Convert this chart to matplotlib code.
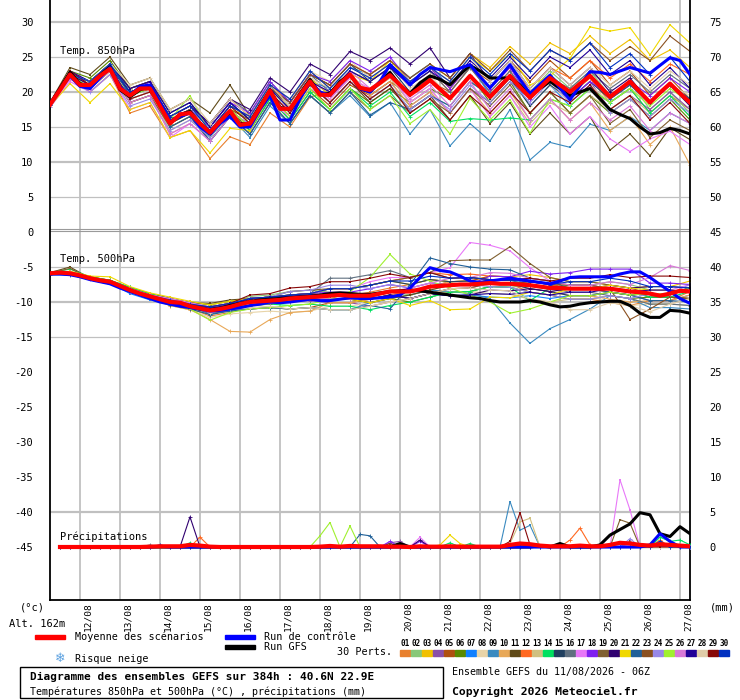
import matplotlib
matplotlib.use("Agg")
import matplotlib.pyplot as plt
from matplotlib.patches import Rectangle

plt.rcParams['font.family'] = ['DejaVu Sans Mono', 'DejaVu Sans']

# picture size in pixels, used to place text like the original
W = 740
H = 700

def fx(px):
    return px / W

def fy(py):
    return 1 - py / H

day_labels = ["12/08", "13/08", "14/08", "15/08", "16/08", "17/08", "18/08", "19/08",
              "20/08", "21/08", "22/08", "23/08", "24/08", "25/08", "26/08", "27/08"]

pert_labels = ["01", "02", "03", "04", "05", "06", "07", "08", "09", "10",
               "11", "12", "13", "14", "15", "16", "17", "18", "19", "20",
               "21", "22", "23", "24", "25", "26", "27", "28", "29", "30"]

pert_colors = ["#e8802e", "#88c878", "#f0c000", "#8a4fa8", "#b05010", "#5a8a00",
               "#1080ff", "#e8d4a8", "#3a8ac0", "#e8a858", "#604a18", "#ff6820",
               "#d0c080", "#00e060", "#204060", "#607080", "#e878f8", "#8020f0",
               "#806030", "#300070", "#f0d800", "#206098", "#8a5020", "#9888e8",
               "#a0f030", "#d878d8", "#200098", "#e0cca8", "#880808", "#0030c0"]

# 850 hPa temperature, every 6h (mean, control, GFS)
t850_mean = [18.2,20.3,22.5,21.0,21.0,22.3,23.3,20.5,19.5,20.5,20.5,18.0,15.5,16.8,17.0,15.5,14.2,15.8,17.3,15.3,
             15.5,17.8,20.2,17.6,17.6,19.6,21.5,19.6,19.6,21.2,22.5,20.6,20.3,21.3,22.4,21.0,19.6,20.6,21.7,20.4,
             19.1,20.7,22.3,20.8,19.3,20.8,22.3,20.7,19.2,20.6,22.0,21.0,20.0,21.2,22.3,20.8,19.3,20.4,21.5,20.0,
             18.5,19.9,21.2,19.8,18.5]
t850_ctrl = [18.2,20.3,22.3,20.8,20.5,22.0,23.5,20.8,19.5,20.8,21.0,18.5,15.8,16.5,17.0,15.0,14.0,15.5,16.5,15.0,
             15.0,17.5,19.5,16.0,16.0,19.0,21.5,20.0,19.5,21.0,22.5,20.5,20.0,21.5,23.9,22.5,21.0,22.5,23.5,23.2,
             22.9,23.4,23.9,22.2,20.6,22.2,23.9,21.8,19.8,21.1,22.4,20.6,18.9,20.9,22.9,22.8,22.5,23.0,23.5,23.1,
             22.7,23.8,24.9,24.5,22.5]
t850_gfs = [18.2,20.5,22.8,21.2,20.8,22.4,23.6,20.3,19.3,20.3,20.8,18.0,15.6,16.8,17.2,15.3,14.0,15.6,17.0,15.5,
            15.4,18.0,20.3,17.8,17.5,19.8,21.8,19.8,19.8,21.5,22.5,20.5,20.0,21.5,22.8,21.0,19.8,21.3,22.3,21.8,
            21.0,22.5,23.8,23.0,22.0,22.0,22.0,21.0,19.5,20.5,21.5,20.5,19.5,20.0,20.5,19.0,17.5,16.8,16.2,15.0,
            14.0,14.2,14.8,14.5,14.0]

# 850 hPa, the 30 perturbations, every 12h
t850_perts = [
    [18.2,22.3,20,22.5,17,18,13.5,14.5,10.5,13.6,12.5,17,15,19.3,20,23,21.5,23.5,21,23,20,23.5,20,23,19,22,19.5,22,18.5,20.5,17,19.5,17.5],
    [18.3,22.5,21.5,24,19.5,20.5,16,17.5,15,18.5,15.5,20,17,21,18.5,21.5,19,21,17.5,19.5,18,21.5,19.5,22.5,20,23,20.5,23,19.5,21.5,17.5,20,17],
    [17.8,22,20,22.5,18.5,19.5,15,16.5,14,17.5,16.5,21,19,23,20.5,23.5,22.5,24.5,22,24,22,25.5,23.5,26.5,24,27,25.5,28,25.5,27.5,24.5,26,23.5],
    [18.5,22.5,21,23.5,19,20,15.5,17,14.5,18,16.5,21,18,22,19.5,22.5,19.5,21.5,18,20,17,20.5,18.5,21.5,19,22,19,21.5,17.5,19.5,17.5,20,17.5],
    [18.2,22.5,21.5,24,20.5,21.5,16,17.5,14,17.5,15,19.5,16.5,20.5,18,21,19.5,21.5,19.5,21.5,20,23.5,21.5,24.5,21.5,24.5,22,24.5,21,23,19.5,22,19],
    [18.5,23,22,24.5,20.5,21.5,16,17.5,14,17.5,14.5,19,16,20,17.5,20.5,18.5,20.5,18.5,20.5,19,22.5,18.5,21.5,17,20,17,19.5,17,19,16.5,19,16],
    [18.2,22.5,21,23.5,20,21,16.5,18,15,18.5,16,20.5,17.5,21.5,20.5,23.5,22.5,24.5,22,24,20.5,24,19.5,22.5,18,21,18,20.5,18.5,20.5,18.5,21,19],
    [17.9,22.5,21,23.5,20.5,21.5,17.5,19,15.5,19,16.5,21,19,23,21.5,24.5,22,24,20.5,22.5,19,22.5,19,22,18,21,18.5,21,18.5,20.5,18.5,21,19.5],
    [18.2,22,20.5,23,18.5,19.5,15.5,17,13,16.5,13.5,18,15.5,19.5,17,19.5,16.5,18.5,14,17.5,12.3,15.5,13,17.5,10.3,12.8,12.1,15.4,14.5,16.5,14.5,17,15.5],
    [18.2,22.5,20.5,23,18.5,19.5,14,15.5,13,16.5,15,19.5,17.5,21.5,19,22,19.5,21.5,18,20,17,20.5,17,20,16,19,16,18.5,14.5,16.5,12.5,15,9.6],
    [18.5,23.5,22.5,25,21,22,17.5,19,17,21,16.5,21,17.5,21.5,18.5,21.5,18.5,20.5,17.5,19.5,16,19.5,15.5,18.5,14,17,14,16.5,11.7,14,10.9,14.9,13.2],
    [18.2,22.5,21.5,24,20,21,16.5,18,15.5,19,16.5,21,18.5,22.5,21,24,22.5,24.5,21.5,23.5,20.5,24,20.5,23.5,20.5,23.5,22,24.5,22,24,21.5,24,22.5],
    [18,22.5,21,23.5,19,20,14.5,16,13.5,17,15.5,20,18,22,19.5,22.5,20,22,18.5,20.5,17,20.5,16.5,19.5,15.5,18.5,17,19.5,17.5,19.5,17,19.5,16.5],
    [18.2,22.8,21.5,24,20,21,15.5,17,13.5,17,14.5,19,16,20,17.5,20.5,18,20,16.5,18.5,15.8,16.2,16,16.3,16,19,18,20.5,18.5,20.5,17,19.5,16.5],
    [18.2,22.5,21.5,24,20.5,21.5,17,18.5,15,18.5,16,20.5,18.5,22.5,21,24,21.5,23.5,20,22,19,22.5,19,22,18,21,19,21.5,19,21,18.5,21,19],
    [18.2,22.5,21,23.5,20,21,16.5,18,15.5,19,17,21.5,18.5,22.5,20,23,21.5,23.5,21,23,20,23.5,20,23,19,22,20.5,23,20.5,22.5,20,22.5,20.5],
    [17.8,21.5,20,22.5,17.5,18.5,13.5,15.5,13,16.5,14,18.5,16.5,20.5,19,22,20.5,22.5,18.5,20.5,17,20.5,16.5,19.5,15,18,14,16.5,13.3,11.5,13.3,14.4,12.5],
    [18.2,22.8,21.5,24,19.5,21.5,16,17.5,15,18.5,17,21.5,18.5,22.5,21.5,24.5,23,25,21.5,23.5,20.5,24,20.5,23.5,19,22,19,21.5,19.5,21.5,19.5,22,20],
    [18,22.3,20.5,23,18.5,19.5,15,16.5,13,16.5,14,18.5,15.5,19.5,17,20,17.5,19.5,17,19,17,20.5,18,21,17,20,17,19.5,15.5,17.5,13.5,16,14.5],
    [18.5,22.5,21,23.5,20,21,16.5,18,15.5,19,17.5,22,20,24,22.5,25.8,24.5,26.3,24,26.3,22,25.5,21.5,24.5,20.5,23.5,21,23.5,20,22,18.5,21,18],
    [18,21.2,18.5,21.2,17.5,18.5,13.5,14.5,11.3,14.8,14.5,19.5,17.5,22,19.5,22.5,21.5,24.5,21.5,23.5,21.5,25,23,25.5,21,22.3,24.8,29.3,28.7,29.2,25.3,29.6,27],
    [18.2,22.5,21.5,24,19.5,20.5,15,16.5,13,16.5,14,18.5,15.5,19.5,17,20,16.7,18.5,17.5,19.5,18,21.5,19.5,22.5,19.5,22.5,20,22.5,19,21,18.5,21,19],
    [18.2,22.5,21.5,24,20.5,21.5,16,17.5,14,17.5,16,20.5,18.5,22.5,21,24,22.5,24.5,22,24,22,25.5,23,26,23,26,24.5,27,24.5,26.5,24.5,28,25.8],
    [17.8,22,20,22.5,18,19,14.5,16,13.5,17,15.5,20,17,21,18.5,21.5,19,21,17.5,19.5,17.5,21,18.5,21.5,18.5,21.5,18.5,21,17,19,16.5,19,17],
    [18.2,22.5,20.5,23,19.5,20.5,16,19.5,14,17.5,15,19.5,16.5,20.5,17.5,20.5,17.5,19.5,15.5,17.5,14,19.1,16,18.9,14.1,19,18,20.5,18.5,20.5,18,20.5,18.5],
    [18.2,21.8,20.5,23,18.5,19.5,14,15.5,13,16.5,15,19.5,17.5,21.5,20,23,20.5,22.5,19,21,18,21.5,17.5,20.5,16,19,16,18.5,16,18,14.5,17,15.5],
    [18.5,23,21.5,24,20.5,21.5,17,18.5,15,18.5,16,20.5,17.5,21.5,20,23,21.5,23.5,21,23,21,24.5,22,25,22,25,23.5,26,22.5,24.5,21,23.5,20.5],
    [18.2,22.5,21.5,24,21,22,17.5,19,15.5,19,16.5,21,18,22,20.5,23.5,22,24,21.5,23.5,21.5,25,21.5,24.5,20.5,23.5,21,23.5,21,23,20.5,23,21],
    [18.5,23,21,23.5,19,20,15.5,17,14.5,18,15.5,20,17,21,18.5,21.5,19,21,17,19,16,19.5,17,20,17,20,18.5,21,17.5,19.5,16,18.5,15.5],
    [18.2,22.5,21.5,24,20,21,16.5,18,14.5,18,16.5,21,19,23,20.5,23.5,22,24,21.5,23.5,21.5,25,22.5,25.5,23,26,24.5,27,23.5,25.5,22.5,25,21.5],
]

# 500 hPa temperature, every 6h (mean, control, GFS)
t500_mean = [-5.9,-5.8,-5.9,-6.2,-6.6,-6.9,-7.1,-7.7,-8.3,-8.8,-9.2,-9.6,-10.0,-10.1,-10.6,-10.9,-11.2,-11.0,-10.7,-10.3,
             -10.0,-9.9,-9.8,-9.7,-9.5,-9.4,-9.3,-9.2,-9.1,-9.0,-9.1,-9.1,-9.1,-8.8,-8.5,-8.5,-8.5,-8.2,-7.8,-7.7,
             -7.6,-7.5,-7.5,-7.4,-7.3,-7.4,-7.4,-7.5,-7.6,-7.8,-8.0,-8.0,-8.1,-8.1,-8.1,-8.1,-8.1,-8.3,-8.5,-8.6,
             -8.8,-9.1,-8.8,-8.4,-8.5]
t500_ctrl = [-6.0,-6.0,-6.1,-6.4,-6.8,-7.1,-7.4,-8.0,-8.5,-9.0,-9.5,-10.0,-10.3,-10.6,-10.8,-11.0,-11.3,-11.2,-11.0,-10.8,
             -10.5,-10.3,-10.0,-10.1,-10.0,-9.8,-9.6,-9.8,-9.8,-9.6,-9.4,-9.5,-9.5,-9.4,-9.3,-9.0,-8.0,-6.5,-5.1,-5.5,
             -5.7,-6.3,-7.0,-7.2,-7.0,-6.8,-6.6,-6.8,-7.0,-7.2,-7.4,-7.0,-6.5,-6.4,-6.4,-6.4,-6.4,-6.0,-5.7,-5.7,
             -6.5,-7.5,-8.5,-9.5,-10.2]
t500_gfs = [-5.9,-5.9,-6.0,-6.3,-6.7,-7.0,-7.3,-7.8,-8.4,-8.9,-9.3,-9.7,-10.1,-10.3,-10.7,-11.0,-11.1,-10.9,-10.5,-10.2,
            -9.9,-9.7,-9.6,-9.5,-9.4,-9.3,-9.2,-9.0,-8.8,-8.7,-8.8,-8.9,-8.9,-8.7,-8.5,-8.4,-8.3,-8.4,-8.6,-8.8,
            -9.0,-9.2,-9.4,-9.5,-9.8,-10.0,-10.0,-10.0,-9.8,-10.0,-10.4,-10.7,-10.6,-10.3,-10.1,-10.0,-9.9,-9.9,-10.5,-11.6,
            -12.2,-12.2,-11.2,-11.3,-11.6]

# 500 hPa, the 30 perturbations, every 12h
t500_perts = [
    [-5.9,-5.9,-6.4,-6.9,-8.3,-9.2,-10.3,-10.9,-12.0,-11.5,-10.5,-10.3,-9.8,-9.6,-9.1,-9.1,-8.6,-8.0,-7.5,-6.8,-7.1,-7.0,-7.3,-7.4,-8.6,-9.0,-9.6,-9.6,-10.1,-10.5,-9.8,-9.8,-8.5],
    [-5.8,-5.9,-6.6,-7.1,-8.1,-9.0,-9.7,-10.3,-10.7,-10.2,-9.2,-9.0,-8.5,-8.3,-8.6,-8.6,-9.1,-8.5,-9.0,-8.3,-8.6,-8.5,-7.8,-7.9,-7.6,-8.0,-7.6,-7.6,-7.1,-7.5,-8.3,-8.3,-8.5],
    [-6.0,-6.0,-6.7,-7.2,-8.6,-9.5,-10.5,-11.1,-11.7,-11.2,-10.0,-9.8,-9.0,-8.8,-8.1,-8.1,-7.6,-7.0,-7.5,-6.8,-7.1,-7.0,-6.3,-6.4,-6.1,-6.5,-7.1,-7.1,-7.6,-8.0,-7.8,-7.8,-7.0],
    [-5.9,-5.8,-6.6,-7.1,-8.0,-8.9,-9.5,-10.1,-10.9,-10.4,-10.0,-9.8,-10.0,-9.8,-10.1,-10.1,-10.6,-10.0,-9.5,-8.8,-8.1,-8.0,-7.3,-7.4,-7.1,-7.5,-8.1,-8.1,-8.6,-9.0,-9.8,-9.8,-9.0],
    [-6.0,-5.9,-6.5,-7.0,-8.3,-9.2,-10.2,-10.8,-11.7,-11.2,-11.0,-10.8,-11.0,-10.8,-10.1,-10.1,-9.6,-9.0,-8.5,-7.8,-7.1,-7.0,-6.3,-6.4,-7.1,-7.5,-8.1,-8.1,-8.6,-9.0,-8.8,-8.8,-8.0],
    [-5.8,-5.7,-6.4,-6.9,-7.9,-8.8,-9.5,-10.1,-10.4,-9.9,-9.5,-9.3,-9.5,-9.3,-9.6,-9.6,-10.1,-9.5,-10.0,-9.3,-8.6,-8.5,-7.8,-7.9,-8.6,-9.0,-9.6,-9.6,-9.1,-9.5,-9.3,-9.3,-9.5],
    [-6.1,-6.1,-6.8,-7.3,-8.8,-9.7,-10.3,-10.9,-11.2,-10.7,-9.5,-9.3,-9.0,-8.8,-9.1,-9.1,-9.6,-9.0,-9.5,-8.8,-9.1,-9.0,-9.3,-9.4,-9.1,-9.5,-9.1,-9.1,-8.6,-9.0,-8.8,-8.8,-8.0],
    [-5.9,-5.9,-6.6,-7.1,-8.5,-9.4,-10.5,-11.1,-12.2,-11.7,-11.5,-11.3,-11.5,-11.3,-10.6,-10.6,-10.1,-9.5,-9.0,-8.3,-7.6,-7.5,-6.8,-6.9,-7.6,-8.0,-9.1,-9.1,-10.1,-10.5,-10.3,-10.3,-9.5],
    [-6.0,-5.9,-6.6,-7.1,-8.1,-9.0,-10.0,-10.6,-11.7,-11.2,-11.0,-10.8,-11.0,-10.8,-11.1,-11.1,-10.1,-9.5,-9.0,-8.3,-8.5,-8.8,-9.5,-13.0,-15.9,-13.8,-12.5,-11.0,-9.1,-9.5,-10.8,-10.8,-11.0],
    [-5.9,-6.0,-6.6,-7.1,-8.5,-9.4,-10.5,-11.1,-12.5,-14.2,-14.3,-12.5,-11.5,-11.3,-10.1,-10.1,-9.6,-9.0,-8.5,-7.8,-7.1,-7.0,-7.3,-7.4,-8.1,-8.5,-9.1,-9.1,-9.6,-10.0,-9.8,-9.8,-9.0],
    [-5.8,-5.0,-6.6,-7.1,-8.0,-8.9,-9.5,-10.1,-10.2,-9.7,-9.5,-9.3,-9.5,-9.3,-9.6,-9.6,-10.1,-9.5,-9.0,-8.3,-7.6,-7.5,-6.8,-6.9,-6.6,-7.0,-7.6,-7.6,-8.1,-8.5,-9.3,-9.3,-9.5],
    [-5.9,-5.9,-6.5,-7.0,-8.3,-9.2,-10.0,-10.6,-10.9,-10.4,-9.5,-9.3,-9.0,-8.8,-8.1,-8.1,-7.6,-7.0,-6.5,-5.8,-6.1,-6.0,-6.3,-6.4,-7.1,-7.5,-8.1,-8.1,-8.6,-9.0,-8.8,-8.8,-8.0],
    [-6.0,-6.0,-6.7,-7.2,-8.6,-9.5,-10.3,-10.9,-11.7,-11.2,-11.0,-10.8,-11.0,-10.8,-11.1,-11.1,-10.6,-10.0,-9.5,-8.8,-8.6,-8.5,-8.8,-8.9,-9.6,-10.0,-9.6,-9.6,-9.1,-9.5,-10.3,-10.3,-10.5],
    [-5.8,-5.3,-6.4,-6.9,-7.9,-8.8,-9.7,-10.3,-11.2,-10.7,-10.5,-10.3,-10.5,-10.3,-10.6,-10.6,-11.1,-10.5,-10.0,-9.3,-8.6,-8.5,-7.8,-7.9,-9.8,-8.0,-7.6,-7.6,-8.1,-8.5,-9.3,-9.3,-8.5],
    [-5.9,-5.9,-6.6,-7.1,-8.3,-9.2,-9.8,-10.4,-10.7,-10.2,-9.5,-9.3,-9.0,-8.8,-8.1,-8.1,-7.6,-7.0,-7.5,-6.8,-7.1,-7.0,-7.3,-7.4,-8.1,-8.5,-9.1,-9.1,-8.6,-9.0,-8.8,-8.8,-8.0],
    [-5.9,-5.8,-6.5,-7.0,-8.1,-9.0,-10.0,-10.6,-11.7,-11.2,-10.5,-10.3,-9.0,-8.8,-6.6,-6.6,-6.1,-5.5,-6.5,-5.8,-6.6,-6.5,-6.8,-6.9,-7.6,-8.0,-8.6,-8.6,-9.1,-9.5,-10.3,-10.3,-10.5],
    [-5.9,-5.8,-6.6,-7.1,-8.1,-9.0,-9.5,-10.1,-10.7,-10.2,-10.0,-9.8,-9.0,-8.8,-8.1,-8.1,-7.1,-6.5,-6.5,-5.8,-5.1,-1.5,-1.9,-2.7,-5.1,-7.0,-7.6,-7.6,-8.1,-8.5,-8.3,-8.3,-7.5],
    [-5.9,-5.8,-6.5,-7.0,-8.3,-9.2,-10.2,-10.8,-11.5,-11.0,-10.0,-9.8,-9.0,-8.8,-8.6,-8.6,-8.1,-7.5,-8.0,-7.3,-7.6,-7.5,-6.3,-6.4,-5.6,-6.0,-5.8,-5.3,-5.3,-5.3,-7.3,-7.3,-7.5],
    [-5.9,-5.2,-6.6,-7.1,-8.1,-9.0,-10.0,-10.6,-11.2,-10.7,-9.5,-9.3,-8.5,-8.3,-8.1,-8.1,-7.6,-7.0,-6.5,-5.8,-4.1,-4.0,-4.0,-2.1,-4.5,-6.5,-7.1,-7.1,-7.6,-8.0,-8.8,-8.8,-8.0],
    [-6.0,-5.9,-6.6,-7.1,-8.5,-9.4,-10.3,-10.9,-11.2,-10.7,-9.5,-9.3,-9.2,-9.0,-9.1,-9.1,-9.6,-9.0,-9.5,-8.8,-9.1,-9.0,-8.3,-8.4,-8.1,-8.5,-8.1,-8.1,-7.6,-8.0,-7.8,-7.8,-8.0],
    [-5.9,-5.6,-6.3,-6.4,-7.8,-8.7,-9.3,-9.9,-10.4,-9.9,-9.5,-9.3,-9.5,-9.3,-9.6,-9.6,-10.1,-9.5,-10.5,-9.8,-11.1,-11.0,-9.3,-9.4,-8.6,-9.0,-8.1,-8.1,-7.6,-8.0,-8.3,-8.3,-8.5],
    [-6.1,-6.1,-6.6,-7.1,-8.5,-9.4,-10.4,-11.0,-11.8,-11.3,-11.0,-10.8,-11.0,-10.8,-11.1,-11.1,-10.5,-11.0,-7.5,-3.7,-4.5,-5.0,-5.3,-5.4,-6.6,-7.0,-8.1,-8.1,-8.6,-9.0,-9.8,-9.8,-10.0],
    [-5.9,-5.9,-6.6,-7.1,-8.3,-9.2,-9.8,-10.4,-10.9,-10.4,-9.5,-9.3,-9.0,-8.8,-9.1,-9.1,-9.6,-9.0,-9.5,-8.8,-8.1,-8.0,-7.3,-7.4,-7.1,-7.5,-7.6,-7.6,-8.1,-12.5,-11.0,-9.3,-9.5],
    [-6.0,-6.0,-6.7,-7.2,-8.5,-9.4,-10.0,-10.6,-10.9,-10.4,-9.5,-9.3,-8.5,-8.3,-7.6,-7.6,-8.1,-7.5,-8.0,-7.3,-7.6,-7.5,-7.8,-7.9,-8.6,-9.0,-9.6,-9.6,-9.1,-9.5,-8.8,-8.8,-7.5],
    [-5.9,-5.9,-6.6,-7.1,-8.4,-9.3,-10.3,-11.0,-12.6,-11.5,-11.0,-10.8,-10.5,-10.3,-9.6,-8.5,-6.5,-3.2,-6.0,-7.0,-8.0,-9.0,-10.0,-11.6,-11.0,-10.0,-9.1,-9.1,-8.6,-9.0,-8.8,-8.8,-8.0],
    [-5.8,-5.7,-6.6,-7.1,-8.1,-9.0,-9.6,-10.2,-10.7,-10.2,-9.5,-9.3,-9.5,-9.3,-9.6,-9.6,-9.1,-8.5,-8.0,-7.3,-6.6,-6.5,-5.8,-5.9,-6.6,-7.0,-7.6,-7.6,-7.1,-7.5,-6.5,-4.8,-5.5],
    [-5.9,-6.0,-6.6,-7.1,-8.3,-9.2,-9.8,-10.4,-10.9,-10.4,-9.5,-9.3,-9.2,-9.0,-9.1,-9.1,-9.6,-9.0,-9.5,-8.8,-9.1,-9.0,-8.8,-8.9,-8.6,-9.0,-8.6,-8.6,-8.1,-8.5,-8.3,-8.3,-8.5],
    [-5.9,-5.8,-6.5,-7.0,-8.2,-9.1,-10.0,-10.6,-11.5,-11.0,-10.8,-10.6,-11.0,-10.8,-11.1,-11.1,-10.6,-10.0,-9.5,-8.8,-8.1,-8.0,-8.3,-8.4,-9.6,-10.0,-11.1,-11.1,-10.1,-10.5,-11.4,-10.3,-9.5],
    [-5.9,-5.9,-6.6,-7.1,-8.3,-9.2,-9.8,-10.4,-10.7,-10.2,-9.0,-8.8,-8.0,-7.8,-7.1,-7.1,-6.6,-6.0,-6.5,-5.8,-6.6,-6.5,-6.8,-6.9,-6.6,-7.0,-6.6,-6.6,-6.1,-6.5,-6.3,-6.3,-6.5],
    [-6.0,-6.0,-6.6,-7.1,-8.2,-9.1,-9.7,-10.3,-10.7,-10.2,-9.5,-9.3,-9.0,-8.8,-8.1,-8.1,-7.6,-7.0,-7.0,-6.3,-6.6,-6.5,-6.8,-6.9,-7.1,-7.5,-7.1,-7.1,-6.6,-7.0,-7.8,-7.8,-8.0],
]

# precipitation (mm per 6h), from +6h to +384h
rain_mean = [0,0,0,0,0,0,0,0, 0,0.05,0.1,0.1,0.1,0.3,0.2,0.05, 0,0,0,0,0,0,0,0, 0,0,0.05,0.15,0.05,0.15,0.1,0.1,
             0.1,0.05,0.05,0,0.1,0.05,0.05,0.1, 0.05,0.05,0.05,0.05,0.05,0.3,0.5,0.4, 0.2,0.1,0.1,0.1,0.2,0.1,0.1,0.3, 0.6,0.5,0.3,0.2,0.4,0.3,0.2,0.1]
rain_ctrl = [0,0,0,0,0,0,0,0, 0,0,0.1,0,0,0,0,0, 0,0,0,0,0,0,0,0, 0,0,0,0,0,0,0,0,
             0,0,0,0,0,0,0,0, 0,0,0,0,0,0,0,0, 0,0,0,0,0,0,0,0, 0,0,0,0.3,1.9,0.8,0,0]
rain_gfs = [0,0,0,0,0,0,0,0, 0,0,0,0,0,0,0,0, 0,0,0,0,0,0,0,0, 0,0,0,0,0,0,0,0,
            0,0,0.5,0,0,0,0,0, 0,0,0,0,0,0,0,0, 0.2,0,0.5,0,0,0,0.3,1.7, 2.5,3.3,4.9,4.6,1.9,1.5,2.9,1.9]

rain_perts = [
    [0,0,0,0,0,0,0,0, 0,0,0,0,0,0.3,0,0, 0,0,0,0,0,0,0,0, 0,0,0,0,0,0,0,0, 0,0,0,0,0,0,0,0, 0,0,0,0,0,0,0,0, 0,0,0,0,0,0,0,0, 0,0,0,0,0,0,0,0],
    [0,0,0,0,0,0,0,0, 0,0,0,0,0,0.2,0,0, 0,0,0,0,0,0,0,0, 0,0,0,0,0,0,0,0, 0,0,0,0,0,0,0,0, 0,0,0,0,0,0,0,0, 0,0,0,0,0,0,0,0, 0,0,0,0,0,0,0,0],
    [0,0,0,0,0,0,0,0, 0,0,0,0,0,0,0,0, 0,0,0,0,0,0,0,0, 0,0,0,0,0,0,0,0, 0,0,0,0,0,0,0,0, 0.3,0,0,0,0,0,0,0, 0,0,0,0,0,0,0,0, 0,0,0,0,0,0,0,0],
    [0,0,0,0,0,0,0,0, 0,0,0,0,0,0,0,0, 0,0,0,0,0,0,0,0, 0,0,0,0,0,0,0,0, 0,0.6,0.8,0,0,0,0,0, 0,0,0,0,0,0,0,0, 0,0,0,0,0,0,0,0, 0,0,0,0,0,0,0,0],
    [0,0,0,0,0,0,0,0, 0,0,0,0,0,0,0.3,0, 0,0,0,0,0,0,0,0, 0,0,0,0,0,0,0,0, 0,0,0,0,0,0,0,0, 0,0,0,0,0,0,0,0, 0,0,0,0,0,0,0,0, 0,0,0,0,0,0,0,0],
    [0,0,0,0,0,0,0,0, 0,0,0,0,0,0,0,0, 0,0,0,0,0,0,0,0, 0,0,0,0,0,0,0,0, 0,0,0,0,0,0,0,0, 0,0,0,0,0,0,0,0, 0,0,0,0,0,0,0,0, 0,0,0,0,0,0,0,0],
    [0,0,0,0,0,0,0,0, 0,0,0,0,0,0,0,0, 0,0,0,0,0,0,0,0, 0,0,0,0,0,0,0,0, 0,0,0,0,0,0,0,0, 0,0,0,0,0,0,0,0, 0,0,0.3,0,0,0,0,0, 0,0,0,0,0.6,0,0,0],
    [0,0,0,0,0,0,0,0, 0,0,0,0,0,0,0,0, 0,0,0,0,0,0,0,0, 0,0,0,0,0,0,0,0, 0,0,0,0,0,0,0,0, 0,0,0,0,0,0,0,0, 0,0,0,0,0,0,0,0, 0,0,0,0,0,0,0,0],
    [0,0,0,0,0,0,0,0, 0,0,0,0,0,0.4,0,0, 0,0,0,0,0,0,0,0, 0,0,0,0,0,0,0,0, 0,0,0,0,0,0,0,0, 0,0,0,0,0,6.5,2.4,3.1, 0,0,0,0,0,0,0,0, 0,0,0,0,0,0,0,0],
    [0,0,0,0,0,0,0,0, 0,0,0,0,0,0,0,0, 0,0,0,0,0,0,0,0, 0,0,0,0,0,0,0,0, 0,0,0,0,0,0,0,0, 0,0,0,0,0,0,0,0, 0,0,0,0,0,0,0,0, 0,0,0,0,0,0.5,0,0],
    [0,0,0,0,0,0,0,0, 0,0,0,0,0,0,0,0, 0,0,0,0,0,0,0,0, 0,0,0,0,0,0,0,0, 0,0.5,0,0,0,0,0,0, 0,0,0,0,0,0,0,0, 0,0,0,0,0,0,0,0, 0,0,0,0,0,0,0,0],
    [0,0,0,0,0,0,0,0, 0,0,0,0,0,0,1.4,0, 0,0,0,0,0,0,0,0, 0,0,0,0,0,0,0,0, 0,0,0,0,0,0,0,0, 0,0,0,0,0,0,0,0, 0,0,0,1.0,2.7,0.3,0,0, 0,0,0,0,1.0,0,0,0],
    [0,0,0,0,0,0,0,0, 0,0,0,0,0,0,0,0, 0,0,0,0,0,0,0,0, 0,0,0,0,0,0,0,0, 0,0,0,0,0,0,0,0, 0,0,0,0,0,0.5,3.6,4.1, 0,0,0,0,0,0,0,0, 0,0,0,0,0,0,0,0],
    [0,0,0,0,0,0,0,0, 0,0,0,0,0,0.6,0,0, 0,0,0,0,0,0,0,0, 0,0,0,0,0,0,0,0, 0,0,0,0,0,0,0,0.6, 0,0.5,0,0,0,0,0,0, 0,0,0,0,0,0,0,0, 0,0,0,0,1.4,0.8,1.0,0.3],
    [0,0,0,0,0,0,0,0, 0,0,0,0,0,0,0,0, 0,0,0,0,0,0,0,0, 0,0,0,0,0,0,0,0, 0,0,0,0,0,0,0,0, 0,0,0,0,0,0,0,0, 0,0,0,0,0,0,0,0, 0,0,0,0,0,0,0,0],
    [0,0,0,0,0,0,0,0, 0,0.3,0,0,0,0,0,0, 0,0,0,0,0,0,0,0, 0,0,0,0,0,0,0,0, 0,0,0,0,0,0,0,0, 0,0,0,0,0,0,0,0, 0,0,0,0,0,0,0,0, 0,0,0,0,0,0,0,0],
    [0,0,0,0,0,0,0,0, 0,0,0,0,0,0,0,0, 0,0,0,0,0,0,0,0, 0,0,0,0,0,0,0,0, 0,0,0,0,1.4,0,0,0, 0,0,0,0,0,0,0,0, 0,0,0,0,0,0,0,0, 9.6,5.3,0,0,0,0,0,0],
    [0,0,0,0,0,0,0,0, 0,0,0,0,0,0,0,0, 0,0,0,0,0,0,0,0, 0,0,0,0,0,0,0,0, 0,0.8,0,0,0.8,0,0,0, 0,0,0,0,0,0,0,0, 0,0,0,0,0,0,0,0, 0,0,0,0,0,0,0,0],
    [0,0,0,0,0,0,0,0, 0,0,0,0,0,0,0,0, 0,0,0,0,0,0,0,0, 0,0,0,0,0,0,0,0, 0,0,0,0,0,0,0,0, 0,0,0,0,0,0,0,0, 0,0,0,0,0,0,0,0, 3.9,3.4,0,0,0,0,0,0],
    [0,0,0,0,0,0,0,0, 0,0,0,0,0,4.3,0,0, 0,0,0,0,0,0,0,0, 0,0,0,0,0,0,0,0, 0,0,0,0,1.0,0,0,0, 0,0,0,0,0,0,0,0, 0,0,0,0,0,0,0,0, 0,0,0,0,0,0,0,0],
    [0,0,0,0,0,0,0,0, 0,0,0,0,0,0,0,0, 0,0,0,0,0,0,0,0, 0,0,0,0,0,0,0,0, 0,0,0,0,0,0,0.3,1.7, 0.5,0,0,0,0,0,0,0, 0,0,0,0,0,0,0,0, 0,0,0,0,0,0,0,0],
    [0,0,0,0,0,0,0,0, 0,0,0,0,0,0,0,0, 0,0,0,0,0,0,0,0, 0,0,0,0,0,0,1.8,1.6, 0,0,0,0,0,0,0,0, 0,0,0,0,0,0,0,0, 0,0,0,0,0,0,0,0, 0,0,0,0,0,0,0,0],
    [0,0,0,0,0,0,0,0, 0,0,0,0,0,0,0,0, 0,0,0,0,0,0,0,0, 0,0,0,0,0,0,0,0, 0,0,0,0,0,0,0,0, 0,0,0,0,0,0,0,0, 0,0,0,0,0,0,0,0, 0,0.8,0,0,0,0,0,0],
    [0,0,0,0,0,0,0,0, 0,0,0,0,0,0,0,0, 0,0,0,0,0,0,0,0, 0,0,0,0,0,0,0,0, 0,0,0,0,0,0,0,0, 0,0,0,0,0,0,0,0, 0,0,0,0,0,0,0,0, 0,1.2,0,0,0,0,0,0],
    [0,0,0,0,0,0,0,0, 0,0,0,0,0,0,0,0, 0,0,0,0,0,0,0,0, 0,0,1.6,3.5,0,3.0,0,0, 0,0,0,0,0,0,0,0, 0,0,0,0,0,0,0,0, 0,0,0,0,0,0,0,0, 0,0,0,0,0,0,0,0],
    [0,0,0,0,0,0,0,0, 0,0,0,0,0,0,0,0, 0,0,0,0,0,0,0,0, 0,0,0,0,0,0,0,0, 0,0,0,0,0,0,0,0, 0,0,0,0,0,0,0,0, 0,0,0,0,0,0,0,0, 0,0.5,0,0,0,0,0,0],
    [0,0,0,0,0,0,0,0, 0,0,0,0,0,0,0,0, 0,0,0,0,0,0,0,0, 0,0,0,0,0,0,0,0, 0,0,0.5,0,0,0,0,0, 0,0,0,0,0,0,0,0, 0,0,0,0,0,0,0,0, 0,0,0,0,0,0,0,0],
    [0,0,0,0,0,0,0,0, 0,0,0,0,0,0,0,0, 0,0,0,0,0,0,0,0, 0,0,0,0,0,0,0,0, 0,0,0,0,0,0,0,0, 0,0,0,0,0,0,0,0, 0,0,0,0,0,0,0,0, 0,0,0,0,0,0,0,0],
    [0,0,0,0,0,0,0,0, 0,0,0,0,0,0,0,0, 0,0,0,0,0,0,0,0, 0,0,0,0,0,0,0,0, 0,0,0,0,0,0,0,0, 0,0,0,0,0,0.8,4.9,0.3, 0,0,0,0,0,0,0,0, 0,0,0,0,0,0,0,0],
    [0,0,0,0,0,0,0,0, 0,0,0.3,0,0,0,0,0, 0,0,0,0,0,0,0,0, 0,0,0,0,0,0,0,0, 0,0,0,0,0,0,0,0, 0,0,0,0,0,0,0,0, 0,0,0,0,0,0,0,0, 0,0,0,0,0.8,0,0,0],
]

hours6 = [6 * i for i in range(65)]
hours12 = [12 * j for j in range(33)]
rain_hours = [6 * (k + 1) for k in range(64)]

fig = plt.figure(figsize=(7.4, 7.0), dpi=100)
ax = fig.add_axes([fx(50), fy(600), 640 / W, 600 / H])
ax.set_xlim(0, 384)
ax.set_ylim(-368 / 7, 232 / 7)
# right scale is the left one shifted by 45 (precipitation in mm at the bottom)
ax2 = ax.twinx()
ax2.set_ylim(-368 / 7 + 45, 232 / 7 + 45)

# grid
for h in range(18, 384, 24):
    ax.axvline(h, color='#c0c0c0', lw=1.3, zorder=0)
for v in [30, 20, 10, -10, -40]:
    ax.axhline(v, color='#c0c0c0', lw=1.6, zorder=0)
for v in [25, 15, 5, -5, -15]:
    ax.axhline(v, color='#c0c0c0', lw=0.9, zorder=0)
ax.axhline(0.45, color='#9a9a9a', lw=0.8, zorder=1)
ax.axhline(0.1, color='#9a9a9a', lw=0.8, zorder=1)

left_ticks = [30, 25, 20, 15, 10, 5, 0, -5, -10, -15, -20, -25, -30, -35, -40, -45]
ax.set_yticks(left_ticks)
ax.set_yticklabels([str(v) for v in left_ticks], fontsize=7.5)
ax.tick_params(axis='y', length=0, pad=12)
ax.set_xticks([])
right_ticks = [75, 70, 65, 60, 55, 50, 45, 40, 35, 30, 25, 20, 15, 10, 5, 0]
ax2.set_yticks(right_ticks)
ax2.set_yticklabels([str(v) for v in right_ticks], fontsize=7.5)
ax2.tick_params(axis='y', length=0, pad=14)

ax.spines['top'].set_visible(False)
for s in ['left', 'right', 'bottom']:
    ax.spines[s].set_linewidth(1.3)
for s in ax2.spines.values():
    s.set_visible(False)

# the 30 perturbations
for k in range(30):
    if k % 2 == 0:
        mk = dict(marker='s', ms=1.8, mew=0)
    else:
        mk = dict(marker='+', ms=3, mew=0.6)
    ax.plot(hours12, t850_perts[k], color=pert_colors[k], lw=0.8, zorder=2, **mk)
    ax.plot(hours12, t500_perts[k], color=pert_colors[k], lw=0.8, zorder=2, **mk)
    ax2.plot(rain_hours, rain_perts[k], color=pert_colors[k], lw=0.8, zorder=2, **mk)

# GFS, control run and ensemble mean on top
ax.plot(hours6, t850_gfs, color='black', lw=2.2, zorder=3)
ax.plot(hours6, t850_ctrl, color='#0000ff', lw=2.2, zorder=4)
ax.plot(hours6, t850_mean, color='#ff0000', lw=3.0, zorder=5)
ax.plot(hours6, t500_gfs, color='black', lw=2.2, zorder=3)
ax.plot(hours6, t500_ctrl, color='#0000ff', lw=2.2, zorder=4)
ax.plot(hours6, t500_mean, color='#ff0000', lw=3.0, zorder=5)
ax2.plot(rain_hours, rain_gfs, color='black', lw=2.2, zorder=3)
ax2.plot(rain_hours, rain_ctrl, color='#0000ff', lw=2.2, zorder=4)
ax2.plot(rain_hours, rain_mean, color='#ff0000', lw=3.0, zorder=5)

# panel titles
fig.text(fx(60), fy(51), "Temp. 850hPa", fontsize=7.5, va='center')
fig.text(fx(60), fy(259), "Temp. 500hPa", fontsize=7.5, va='center')
fig.text(fx(60), fy(537), "Précipitations", fontsize=7.5, va='center')

# dates under the axis
for n, lab in enumerate(day_labels):
    xp = 50 + (18 + 24 * n) * 10 / 6 + 8
    fig.text(fx(xp), fy(602), lab, rotation=90, ha='center', va='top', fontsize=6.8)

fig.text(fx(32), fy(607), "(°c)", ha='center', va='center', fontsize=7.5)
fig.text(fx(9), fy(624), "Alt. 162m", va='center', fontsize=7.5)
fig.text(fx(722), fy(607), "(mm)", ha='center', va='center', fontsize=7.5)

# legend
fig.add_artist(Rectangle((fx(35), fy(639)), 30 / W, 4 / H, color='#ff0000', transform=fig.transFigure))
fig.text(fx(75), fy(637), "Moyenne des scénarios", va='center', fontsize=7.3)
fig.add_artist(Rectangle((fx(225), fy(639)), 30 / W, 4 / H, color='#0000ff', transform=fig.transFigure))
fig.text(fx(264), fy(637), "Run de contrôle", va='center', fontsize=7.3)
fig.add_artist(Rectangle((fx(225), fy(649)), 30 / W, 4 / H, color='black', transform=fig.transFigure))
fig.text(fx(264), fy(647), "Run GFS", va='center', fontsize=7.3)
fig.text(fx(60), fy(658), "\u2744", ha='center', va='center', fontsize=9,
         color='#5aa0e0', family='DejaVu Sans')
fig.text(fx(75), fy(659), "Risque neige", va='center', fontsize=7.3)
fig.text(fx(392), fy(652), "30 Perts.", ha='right', va='center', fontsize=7.3)

for k in range(30):
    x0 = 400 + 11 * k
    fig.text(fx(x0 + 5), fy(643), pert_labels[k], ha='center', va='center',
             fontsize=5.5, fontweight='bold')
    fig.add_artist(Rectangle((fx(x0), fy(656)), 10 / W, 6 / H, color=pert_colors[k],
                             transform=fig.transFigure))

# title box
fig.add_artist(Rectangle((fx(20), fy(698)), 423 / W, 31 / H, fill=False, ec='black', lw=1,
                         transform=fig.transFigure))
fig.text(fx(30), fy(677), "Diagramme des ensembles GEFS sur 384h : 40.6N 22.9E",
         va='center', fontsize=8, fontweight='bold')
fig.text(fx(30), fy(692), "Températures 850hPa et 500hPa (°C) , précipitations (mm)",
         va='center', fontsize=7.2)
fig.text(fx(452), fy(672), "Ensemble GEFS du 11/08/2026 - 06Z", va='center', fontsize=7.2)
fig.text(fx(452), fy(692), "Copyright 2026 Meteociel.fr", va='center', fontsize=8.2,
         fontweight='bold')

fig.savefig("out.png", dpi=100)
